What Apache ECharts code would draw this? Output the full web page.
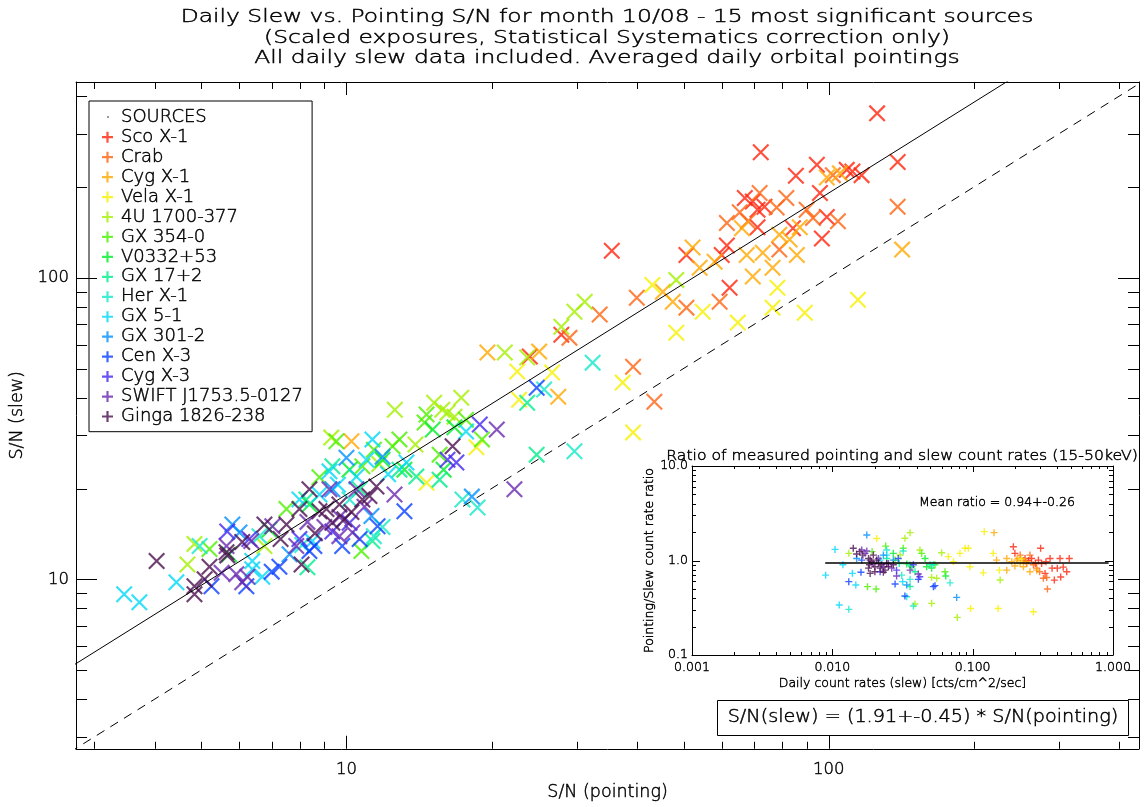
<!DOCTYPE html>
<html><head><meta charset="utf-8">
<script src="https://cdn.jsdelivr.net/npm/echarts@6/dist/echarts.min.js"></script>
<style>html,body{margin:0;padding:0;background:#fff}#c{width:1144px;height:807px}</style>
</head><body><div id="c"></div>
<script>
// ---------------- DATA ----------------
const sourceNames = ['Sco X-1','Crab','Cyg X-1','Vela X-1','4U 1700-377','GX 354-0','V0332+53','GX 17+2','Her X-1','GX 5-1','GX 301-2','Cen X-3','Cyg X-3','SWIFT J1753.5-0127','Ginga 1826-238'];

// main plot: [S/N pointing, S/N slew]
const scoX1 = [[126,351],[72.3,261],[139,242],[35.5,123],[85.5,218],[94.5,237],[109,228],[112,225],[117,219],[95.9,191],[99.1,159],[96.8,135],[69.6,179],[71.2,168],[73.6,172],[71.2,147],[61.5,128],[60.0,119],[50.7,119],[62.3,92.6],[84.3,146],[27.9,64.7],[24.0,54.8],[67.0,184]];
const crab = [[139,172],[61.5,152],[65.4,165],[71.9,191],[81.7,184],[90.0,168],[92.8,158],[104.5,154],[79.0,124],[40.0,85.9],[33.5,75.5],[50.7,79.6],[59.4,83.3],[102,219],[78.0,171],[29.0,63.2],[39.3,50.7],[43.5,38.8],[68.0,154]];
const cygX1 = [[142,124],[52.2,126],[66.1,146],[67.6,119],[73.0,121],[76.5,108],[69.6,101],[85.9,119],[87.1,147],[79.0,139],[54.0,108],[45.3,89.8],[47.5,83.3],[99.1,215],[105.5,222],[19.6,56.5],[25.1,56.9],[27.5,40.3],[10.24,28.7],[58.0,113],[83.0,134]];
const velaX1 = [[115,84.6],[89.2,76.6],[76.5,79.6],[78.3,92.6],[54.8,77.1],[43.1,94.7],[64.8,71.0],[48.3,65.7],[37.4,44.9],[39.3,30.7],[22.6,48.9],[26.7,48.5],[22.8,39.4],[18.6,27.4],[14.66,20.9]];
const u1700 = [[48.3,98.4],[31.2,83.3],[29.7,77.1],[27.9,68.8],[23.7,54.4],[21.3,56.5],[12.6,36.5],[15.2,38.5],[17.3,40.0],[16.2,35.7],[15.8,36.5],[16.75,34.6],[4.68,11.2],[4.84,13.1],[6.76,12.9],[9.3,29.5],[11.7,24.1],[13.9,28.0]];
const gx354 = [[14.66,35.2],[17.7,33.8],[19.1,29.1],[14.52,33.1],[9.53,28.7],[12.46,27.6],[5.20,12.6],[7.51,17.1],[10.79,23.7],[8.79,21.8],[10.74,12.4],[15.6,25.9],[12.88,29.1],[11.4,26.9]];
const v0332 = [[15.1,31.4],[16.75,31.9],[11.88,24.9],[10.15,23.1],[8.38,17.7],[6.92,14.6],[5.71,12.1],[13.19,23.1],[15.9,23.1]];
const gx17 = [[23.7,38.5],[24.8,25.9],[15.6,21.4],[13.96,21.9],[9.35,23.7],[12.88,23.1],[8.3,10.96],[8.26,18.4],[11.32,13.4],[10.65,19.9]];
const herX1 = [[32.4,52.3],[25.7,42.6],[29.7,26.6],[17.4,18.4],[18.7,17.3],[11.88,14.9],[11.4,13.9],[4.96,12.9],[6.60,13.9],[10.15,18.4],[8.1,13.0]];
const gx51 = [[3.46,8.92],[3.72,8.39],[4.44,9.77],[6.38,10.8],[6.69,10.2],[6.38,11.5],[8.50,13.4],[9.22,22.8],[10.49,21.9],[7.99,18.4],[8.79,19.1],[11.32,29.1],[11.0,24.9],[13.32,24.4],[17.7,30.9],[9.6,20.6],[12.2,22.3]];
const gx301 = [[5.80,15.2],[6.00,14.3],[9.35,19.9],[10.0,25.3],[11.88,25.5],[11.27,16.2],[18.2,18.8],[7.62,12.1]];
const cenX3 = [[24.8,43.2],[5.25,9.48],[6.20,9.48],[7.26,11.0],[8.38,12.4],[13.19,16.8],[11.6,15.0],[8.58,12.9],[10.65,13.6],[9.8,12.9],[7.0,10.6]];
const cygX3 = [[18.9,32.6],[16.2,24.9],[16.9,24.4],[5.66,14.4],[9.35,14.4],[10.15,15.4],[6.29,13.6],[7.99,13.6]];
const swift = [[20.5,31.4],[22.3,19.9],[9.67,13.9],[10.49,19.9],[9.22,19.9],[5.51,10.5],[5.64,12.9],[5.91,10.4],[6.23,10.2],[6.35,13.4],[7.02,15.0],[7.87,12.9],[9.67,16.1],[10.29,14.3],[6.08,9.77],[12.58,19.1],[8.3,15.5],[9.0,14.9],[10.9,17.4]];
const ginga = [[4.04,11.5],[4.84,9.48],[4.84,8.92],[5.08,10.0],[5.20,11.0],[5.66,12.0],[6.08,13.3],[7.51,15.2],[8.07,11.2],[7.99,17.1],[9.09,17.1],[10.24,16.7],[10.79,18.4],[16.6,27.6],[11.54,20.3],[11.16,18.9],[8.38,19.9],[8.79,16.8],[9.35,15.4],[5.64,12.3],[6.76,15.2],[9.67,17.7],[8.6,14.2],[9.9,15.8],[7.3,13.6]];

// inset: [daily slew count rate, pointing/slew ratio]
const scoX1R = [[0.200,1.19],[0.195,1.40],[0.236,1.05],[0.263,1.05],[0.294,1.01],[0.305,1.35],[0.310,0.93],[0.328,0.73],[0.333,0.97],[0.356,1.05],[0.368,0.83],[0.382,0.62],[0.401,0.83],[0.419,1.05],[0.424,0.67],[0.442,0.85],[0.468,0.76],[0.488,1.05],[0.28,0.93],[0.25,1.0]];
const crabR = [[0.256,1.14],[0.218,1.14],[0.271,0.90],[0.286,0.83],[0.319,0.65],[0.337,0.66],[0.341,0.50],[0.30,0.76],[0.243,0.93],[0.23,1.0]];
const cygX1R = [[0.148,1.01],[0.175,1.05],[0.19,0.97],[0.206,1.01],[0.23,0.86],[0.175,0.79],[0.256,0.76],[0.286,0.79],[0.218,0.93],[0.2,0.875],[0.142,1.97],[0.24,0.97],[0.21,1.05]];
const velaX1R = [[0.0207,1.71],[0.0812,1.19],[0.0882,1.35],[0.0931,1.35],[0.0957,0.86],[0.0966,0.31],[0.121,2.02],[0.119,0.74],[0.14,1.19],[0.152,0.31],[0.155,0.79],[0.2235,1.04],[0.271,0.287],[0.0729,0.97],[0.0671,1.1]];
const u1700R = [[0.0131,1.19],[0.0329,1.72],[0.0358,1.97],[0.0421,1.29],[0.0388,0.347],[0.051,0.663],[0.0601,1.21],[0.0777,0.25],[0.157,0.622],[0.051,0.352],[0.0554,0.648],[0.0304,1.144]];
const gx354R = [[0.0192,1.24],[0.0178,0.529],[0.0205,0.5],[0.024,1.42],[0.028,1.01],[0.032,1.35],[0.0433,1.19],[0.0635,0.76],[0.0539,0.9]];
const v0332R = [[0.0272,1.19],[0.0368,0.86],[0.0458,1.05],[0.047,0.86],[0.051,0.83],[0.0643,0.686],[0.0339,0.92]];
const gx17R = [[0.0358,0.896],[0.0358,0.53],[0.0497,0.9],[0.0388,0.76],[0.0244,1.05],[0.03,0.93]];
const herX1R = [[0.0131,0.304],[0.0244,1.29],[0.032,1.26],[0.0339,0.414],[0.0358,0.632],[0.0312,0.70],[0.069,0.58],[0.0525,0.9],[0.0378,0.33]];
const gx51R = [[0.00896,0.70],[0.01045,1.31],[0.0112,0.338],[0.0119,0.903],[0.0139,0.731],[0.0147,0.55],[0.0244,1.14],[0.0317,0.597],[0.0219,1.01]];
const gx301R = [[0.0176,1.86],[0.0149,1.05],[0.0339,0.55],[0.0769,0.407],[0.0272,1.01],[0.0231,1.14]];
const cenX3R = [[0.0131,0.597],[0.0162,1.01],[0.016,0.75],[0.028,0.564],[0.0329,0.421],[0.041,0.632],[0.0525,0.529],[0.0539,0.542],[0.0295,1.05]];
const cygX3R = [[0.0378,0.9],[0.042,0.674],[0.0287,0.79],[0.0219,0.76]];
const swiftR = [[0.0162,1.29],[0.0171,1.19],[0.0176,1.26],[0.0196,0.92],[0.0231,0.86],[0.0265,0.83],[0.0287,0.686],[0.041,0.72],[0.0358,0.79],[0.0251,0.93],[0.0213,1.05]];
const gingaR = [[0.0141,1.35],[0.0149,1.17],[0.0157,1.24],[0.0165,1.14],[0.0181,1.05],[0.0186,1.01],[0.0191,0.97],[0.0184,0.9],[0.0201,0.86],[0.0207,1.01],[0.0213,0.93],[0.0219,0.83],[0.0225,0.9],[0.0237,0.79],[0.0244,0.93],[0.0251,0.86],[0.0181,0.83],[0.0201,0.76],[0.0272,0.9],[0.0231,0.75],[0.0196,1.14],[0.0186,0.73]];

const mainSets = [scoX1, crab, cygX1, velaX1, u1700, gx354, v0332, gx17, herX1, gx51, gx301, cenX3, cygX3, swift, ginga];
const ratioSets = [scoX1R, crabR, cygX1R, velaX1R, u1700R, gx354R, v0332R, gx17R, herX1R, gx51R, gx301R, cenX3R, cygX3R, swiftR, gingaR];

const fitSlope = 1.91;          // S/N(slew) = 1.91 * S/N(pointing)
const meanRatio = 0.94;
const meanRatioRange = [0.0089, 0.93];

// tick values
const mainXTicks = [3,4,5,6,7,8,9,10,20,30,40,50,60,70,80,90,100,200,300,400];
const mainYTicks = [3,4,5,6,7,8,9,10,20,30,40,50,60,70,80,90,100,200,300,400];
const insetXTicks = [0.001,0.002,0.003,0.004,0.005,0.006,0.007,0.008,0.009,0.01,0.02,0.03,0.04,0.05,0.06,0.07,0.08,0.09,0.1,0.2,0.3,0.4,0.5,0.6,0.7,0.8,0.9,1];
const insetYTicks = [0.1,0.2,0.3,0.4,0.5,0.6,0.7,0.8,0.9,1,2,3,4,5,6,7,8,9,10];

// ---------------- STYLE ----------------
const palette = ['#ff240c','#ff6410','#ffa800','#f6f000','#a4f000','#4cf000','#00ee2a','#00ee8c','#14e8c8','#00d8f8','#0090ff','#0a40ff','#4428f0','#6a2ab0','#4c1050'];
const FONT = 'DejaVu Sans';
const X_PATH = 'path://M0,9L9,0L100,91L91,100Z M91,0L100,9L9,100L0,91Z';
const PLUS_PATH = 'path://M4,0H6V4H10V6H6V10H4V6H0V4H4Z';
const X_EXT = [2.75, 440], Y_EXT = [2.74, 446];
const IX_EXT = [0.001, 1], IY_EXT = [0.1, 10];

function isDecade(v){ const l = Math.log10(v); return Math.abs(l - Math.round(l)) < 1e-6; }

function logAxis(grid, pos, ext, opts) {
  return Object.assign({
    type:'log', logBase:10, gridIndex:grid, position:pos, min:ext[0], max:ext[1],
    axisLine:{show:true, onZero:false, lineStyle:{color:'#000', width:1}},
    axisTick:{show:false}, minorTick:{show:false}, splitLine:{show:false},
    axisLabel:{show:false}
  }, opts || {});
}

function tickSeries(axisIdx, ticks, dir, xExt, yExt, majorLen, minorLen) {
  return {
    type:'custom', xAxisIndex:axisIdx, yAxisIndex:axisIdx, silent:true, z:6, clip:false,
    data: ticks.map(v => dir === 'x' ? [v, yExt[0]] : [xExt[0], v]),
    renderItem(params, api) {
      const v = api.value(dir === 'x' ? 0 : 1);
      const len = isDecade(v) ? majorLen : minorLen;
      const st = {stroke:'#000', lineWidth:1};
      if (dir === 'x') {
        const a = api.coord([v, yExt[0]]), b = api.coord([v, yExt[1]]);
        const x = Math.round(a[0]) + 0.5;
        return {type:'group', children:[
          {type:'line', shape:{x1:x, y1:a[1], x2:x, y2:a[1]-len}, style:st},
          {type:'line', shape:{x1:x, y1:b[1], x2:x, y2:b[1]+len}, style:st}]};
      } else {
        const a = api.coord([xExt[0], v]), b = api.coord([xExt[1], v]);
        const y = Math.round(a[1]) + 0.5;
        return {type:'group', children:[
          {type:'line', shape:{x1:a[0], y1:y, x2:a[0]+len, y2:y}, style:st},
          {type:'line', shape:{x1:b[0], y1:y, x2:b[0]-len, y2:y}, style:st}]};
      }
    }
  };
}

const series = [];
series.push({type:'scatter', name:'SOURCES', xAxisIndex:0, yAxisIndex:0, data:[], itemStyle:{color:'#666'}});
sourceNames.forEach((n, i) => {
  series.push({type:'scatter', name:n, xAxisIndex:0, yAxisIndex:0, data:mainSets[i],
    symbol:X_PATH, symbolSize:17, itemStyle:{color:palette[i]}, silent:true, z:3});
});
sourceNames.forEach((n, i) => {
  series.push({type:'scatter', name:n, xAxisIndex:2, yAxisIndex:2, data:ratioSets[i],
    symbol:PLUS_PATH, symbolSize:7, itemStyle:{color:palette[i]}, silent:true, z:3});
});
// fit line and 1:1 line
series.push({type:'line', xAxisIndex:0, yAxisIndex:0, data:[[2.5, fitSlope*2.5],[500, fitSlope*500]],
  symbol:'none', clip:true, silent:true, lineStyle:{color:'#000', width:1}, z:4});
series.push({type:'line', xAxisIndex:0, yAxisIndex:0, data:[[2.5, 2.5],[500, 500]],
  symbol:'none', clip:true, silent:true, lineStyle:{color:'#000', width:1, type:[9,7]}, z:4});
series.push({type:'line', xAxisIndex:2, yAxisIndex:2, data:meanRatioRange.map(x => [x, meanRatio]),
  symbol:'none', clip:true, silent:true, lineStyle:{color:'#000', width:1.5}, z:4});
// ticks
series.push(tickSeries(0, mainXTicks, 'x', X_EXT, Y_EXT, 13, 7));
series.push(tickSeries(0, mainYTicks, 'y', X_EXT, Y_EXT, 21, 11));
series.push(tickSeries(2, insetXTicks, 'x', IX_EXT, IY_EXT, 6, 3));
series.push(tickSeries(2, insetYTicks, 'y', IX_EXT, IY_EXT, 8, 4));

// thin black text: extra-light face darkened with a hairline outline
const lab = (size) => ({fontFamily:FONT, fontSize:size, color:'#000', fontWeight:200, textBorderColor:'#000', textBorderWidth:0.45});
const gtext = (x, y, text, size, sx, align) => ({type:'text', x:x, y:y, scaleX:sx,
  style:{text:text, align:align || 'center', verticalAlign:'middle', fill:'#000', stroke:'#000', lineWidth:0.45,
    fontFamily:FONT, fontSize:size, fontWeight:200}});

const option = {
  animation:false,
  backgroundColor:'#fff',
  grid:[
    {left:76, top:82, width:1063, height:668},
    {left:692, top:466, width:421, height:189}
  ],
  xAxis:[
    logAxis(0, 'bottom', X_EXT, {
      axisLabel:Object.assign({show:true, margin:12, formatter:v => isDecade(v) ? String(Math.round(v)) : ''}, lab(16.5)),
      name:'S/N (pointing)', nameLocation:'middle', nameGap:35, nameTextStyle:lab(17.5)}),
    logAxis(0, 'top', X_EXT),
    logAxis(1, 'bottom', IX_EXT, {
      axisLabel:Object.assign({show:true, margin:6, formatter:v => isDecade(v) ? v.toFixed(3) : ''}, lab(12.5)),
      name:'Daily count rates (slew) [cts/cm^2/sec]', nameLocation:'middle', nameGap:22, nameTextStyle:lab(12.5)}),
    logAxis(1, 'top', IX_EXT)
  ],
  yAxis:[
    logAxis(0, 'left', Y_EXT, {
      axisLabel:Object.assign({show:true, margin:7, formatter:v => isDecade(v) ? String(Math.round(v)) : ''}, lab(16.5)),
      name:'S/N (slew)', nameLocation:'middle', nameGap:49, nameTextStyle:lab(17.5)}),
    logAxis(0, 'right', Y_EXT),
    logAxis(1, 'left', IY_EXT, {
      axisLabel:Object.assign({show:true, margin:4, formatter:v => isDecade(v) ? v.toFixed(1) : ''}, lab(12.5)),
      name:'Pointing/Slew count rate ratio', nameLocation:'middle', nameGap:36, nameTextStyle:lab(12.5)}),
    logAxis(1, 'right', IY_EXT)
  ],
  legend:{
    orient:'vertical', left:89, top:101, padding:[7, 9, 6, 13],
    itemWidth:11, itemHeight:11, itemGap:1.5, selectedMode:false,
    borderColor:'#000', borderWidth:1, borderRadius:0,
    textStyle:Object.assign({padding:[0,0,0,3], lineHeight:17.4}, lab(18)),
    data:[{name:'SOURCES', icon:'none'}].concat(sourceNames.map(n => ({name:n, icon:PLUS_PATH})))
  },
  graphic:[
    gtext(607, 17, 'Daily Slew vs. Pointing S/N for month 10/08 - 15 most significant sources', 18, 1.3),
    gtext(607, 38, '(Scaled exposures, Statistical Systematics correction only)', 18, 1.3),
    gtext(607, 58, 'All daily slew data included. Averaged daily orbital pointings', 18, 1.3),
    gtext(902, 456, 'Ratio of measured pointing and slew count rates (15-50keV)', 14, 1.12),
    gtext(919, 503, 'Mean ratio = 0.94+-0.26', 12.5, 1.0, 'left'),
    {type:'rect', shape:{x:717.5, y:700.5, width:411, height:35}, style:{fill:'#fff', stroke:'#000', lineWidth:1}},
    gtext(923, 718, 'S/N(slew) = (1.91+-0.45) * S/N(pointing)', 17, 1.13),
    {type:'circle', shape:{cx:108, cy:117, r:1}, style:{fill:'#777'}}
  ],
  series:series
};

const chart = echarts.init(document.getElementById('c'), null, {renderer:'canvas'});
chart.setOption(option);
</script>
</body></html>
